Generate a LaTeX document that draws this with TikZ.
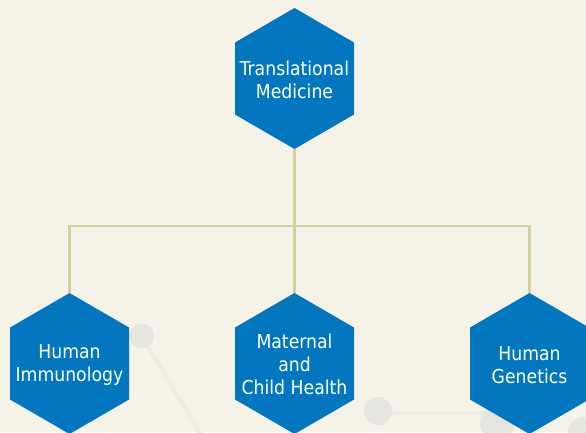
\documentclass[tikz,border=0pt]{standalone}
\usepackage{fontspec}
\setmainfont{DejaVu Sans Condensed}
\definecolor{bg}{HTML}{F5F3E7}
\definecolor{hexblue}{HTML}{0277C0}
\definecolor{conncol}{HTML}{D6CF9F}
\definecolor{deco}{HTML}{E7E6DE}
\definecolor{decoline}{HTML}{EEEDE4}
\tikzset{
  hexfill/.style={fill=hexblue, draw=none},
  hextext/.style={text=white, align=center, inner sep=0pt, font=\fontsize{19.2}{23}\selectfont},
  conn/.style={draw=conncol, line width=2.4pt},
  decocirc/.style={fill=deco, draw=none},
  decoln/.style={draw=decoline, line width=4.5pt}
}
\newcommand{\hexagonat}[3]{% name, x, y
  \coordinate (#1-n) at (#2,#3-70.5);
  \coordinate (#1-s) at (#2,#3+70.5);
  \fill[hexfill] (#2,#3-70.5) -- (#2+59.5,#3-36) -- (#2+59.5,#3+36) -- (#2,#3+70.5)
     -- (#2-59.5,#3+36) -- (#2-59.5,#3-36) -- cycle;
}
\begin{document}
\begin{tikzpicture}[x=1pt, y=-1pt]
\fill[bg] (0,0) rectangle (586,432);
\useasboundingbox (0,0) rectangle (586,432);
\begin{scope}
\clip (0,0) rectangle (586,432);
% decorative background
\draw[decoln] (142,336) -- (203,438);
\draw[decoln] (378,413) -- (500,413);
\fill[decocirc] (142,336) circle (12.5);
\fill[decocirc] (378,411) circle (14);
\fill[decocirc] (497,423) circle (17);
\fill[decocirc] (583,432) circle (15);
% hexagons
\hexagonat{top}{294.5}{78.5}
\hexagonat{left}{69.5}{363.5}
\hexagonat{mid}{294.5}{363.5}
\hexagonat{right}{529.5}{363.5}
\node[hextext] (toptext) at (294.5,80) {Translational\\Medicine};
\node[hextext] (lefttext) at (69.5,365) {Human\\Immunology};
\node[hextext] (midtext) at (294.5,364.5) {Maternal\\and\\Child Health};
\node[hextext] (righttext) at (529.5,365) {Human\\Genetics};
% connectors
\coordinate (busL) at (69.5,226);
\coordinate (busR) at (529.5,226);
\draw[conn] (top-s) -- (mid-n);
\draw[conn] (left-n) -- (busL) -- (busR) -- (right-n);
\end{scope}
\end{tikzpicture}
\end{document}
